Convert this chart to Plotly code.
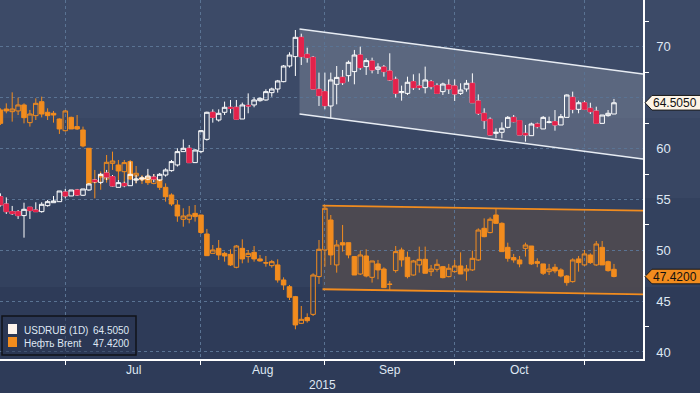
import pandas as pd
import plotly.graph_objects as go

# ---------------- data ----------------
dates = pd.bdate_range("2015-06-16", periods=105)
idx = list(range(len(dates)))

rub_open = [55.27, 54.55, 53.80, 53.80, 53.41, 54.23, 53.96, 53.80, 54.39, 54.68,
            54.78, 55.73, 55.34, 55.93, 55.41, 55.93, 56.91, 56.68, 57.60, 57.24,
            56.19, 56.58, 56.35, 56.90, 57.00, 57.00, 57.20, 56.91, 57.40, 57.83,
            58.39, 59.70, 60.03, 58.62, 59.70, 60.91, 63.57, 62.81, 63.57, 64.06,
            64.06, 62.91, 64.25, 64.29, 64.71, 64.78, 65.50, 65.86, 66.58, 68.12,
            69.04, 70.94, 69.27, 68.97, 65.83, 65.60, 64.19, 66.32, 67.01, 67.17,
            67.57, 69.20, 68.06, 68.61, 67.80, 68.02, 67.63, 66.81, 65.50, 65.43,
            66.58, 66.16, 65.99, 66.58, 66.19, 65.60, 66.25, 66.16, 65.43, 65.86,
            66.42, 64.68, 63.47, 62.88, 61.50, 61.60, 62.09, 63.07, 62.75, 61.50,
            61.27, 62.42, 61.93, 62.58, 62.65, 62.32, 63.07, 65.04, 63.86, 64.51,
            63.96, 63.69, 62.48, 63.24, 63.40]
rub_high = [55.60, 55.20, 54.36, 53.96, 54.68, 54.23, 54.72, 54.72, 54.95, 55.34,
            55.83, 56.03, 55.93, 56.03, 56.03, 56.60, 57.00, 57.60, 57.90, 57.40,
            56.91, 56.75, 58.72, 57.40, 57.30, 58.00, 57.50, 57.60, 58.06, 58.88,
            60.03, 60.90, 60.35, 59.93, 61.83, 63.63, 63.86, 63.86, 64.62, 64.78,
            64.78, 64.52, 65.43, 65.04, 65.04, 65.83, 65.99, 66.75, 68.22, 69.47,
            71.66, 71.30, 69.92, 69.10, 67.47, 67.47, 67.47, 68.12, 67.73, 68.65,
            69.70, 70.02, 68.88, 68.94, 68.39, 68.22, 69.37, 67.07, 66.19, 67.07,
            67.30, 67.40, 68.06, 66.75, 66.42, 66.48, 66.81, 66.81, 66.42, 66.75,
            67.40, 65.33, 63.96, 63.07, 61.99, 62.58, 63.20, 63.30, 62.81, 62.32,
            62.55, 62.55, 63.20, 63.14, 63.79, 63.40, 65.33, 65.60, 64.71, 64.71,
            64.51, 64.12, 63.30, 63.79, 64.88]
rub_low = [54.30, 53.57, 53.47, 53.08, 51.24, 53.08, 53.80, 53.70, 54.29, 54.68,
           54.78, 55.11, 55.34, 55.34, 55.34, 55.85, 56.60, 56.50, 56.90, 56.26,
           56.19, 56.20, 56.35, 56.60, 56.80, 56.90, 56.70, 56.80, 57.24, 57.73,
           58.23, 59.70, 58.62, 58.62, 59.54, 60.78, 62.55, 62.65, 63.30, 63.47,
           62.81, 62.91, 63.47, 64.06, 64.61, 64.71, 65.10, 65.50, 66.52, 67.96,
           67.14, 68.22, 68.45, 65.86, 64.19, 63.86, 62.97, 64.35, 66.25, 66.58,
           66.32, 67.73, 67.24, 67.40, 67.34, 67.07, 66.65, 65.01, 64.71, 65.27,
           65.76, 65.76, 65.43, 65.83, 65.37, 65.27, 65.37, 64.68, 65.27, 65.60,
           64.51, 63.30, 61.93, 61.27, 61.01, 61.01, 61.99, 62.58, 61.34, 60.68,
           61.27, 61.99, 61.93, 62.48, 61.76, 62.32, 63.07, 63.47, 63.47, 63.79,
           63.40, 62.48, 62.48, 63.14, 63.40]
rub_close = [54.46, 53.80, 53.60, 53.41, 54.03, 53.90, 53.80, 54.52, 54.78, 54.85,
             55.83, 55.34, 55.93, 55.44, 56.03, 56.52, 56.75, 57.47, 57.20, 56.32,
             56.65, 56.35, 57.47, 57.00, 57.10, 57.30, 57.00, 57.47, 57.90, 58.72,
             59.70, 60.03, 58.62, 59.86, 61.76, 63.57, 63.07, 63.47, 64.06, 63.96,
             62.88, 64.29, 64.20, 64.78, 64.94, 65.60, 65.86, 66.65, 68.12, 69.20,
             70.94, 69.04, 68.94, 65.86, 65.21, 64.22, 66.75, 67.00, 66.48, 68.48,
             69.20, 67.96, 68.65, 67.73, 68.02, 67.57, 66.75, 65.43, 65.60, 66.52,
             65.99, 66.00, 66.75, 66.09, 65.43, 66.35, 65.86, 65.37, 65.76, 66.42,
             64.51, 63.47, 62.75, 61.34, 61.60, 62.00, 63.07, 62.65, 61.34, 61.34,
             62.42, 62.16, 63.07, 62.62, 62.32, 63.14, 65.27, 63.86, 64.51, 63.86,
             63.63, 62.48, 63.30, 63.47, 64.505]

brent_open = [63.80, 63.89, 63.63, 63.70, 64.29, 62.55, 63.24, 64.61, 63.57, 63.47,
              62.91, 61.76, 63.07, 62.16, 61.83, 60.03, 56.90, 57.45, 57.01, 58.55,
              58.39, 57.73, 58.72, 57.31, 57.14, 57.24, 56.58, 56.91, 56.19, 55.44,
              54.45, 53.05, 53.05, 53.63, 53.47, 51.60, 49.70, 50.19, 49.70, 49.60,
              48.33, 50.19, 49.38, 49.80, 49.15, 48.78, 48.49, 48.56, 47.08, 46.42,
              45.44, 42.82, 43.38, 43.70, 47.41, 50.03, 52.98, 48.56, 50.75, 50.75,
              49.38, 47.67, 49.44, 47.34, 48.66, 48.16, 46.67, 48.00, 50.03, 49.31,
              47.57, 48.56, 49.11, 47.90, 48.13, 48.39, 47.41, 47.90, 48.46, 47.97,
              48.07, 49.05, 52.16, 51.74, 53.47, 52.65, 50.29, 49.28, 49.05, 50.19,
              50.42, 48.88, 48.66, 47.90, 48.33, 48.07, 47.47, 46.92, 49.15, 48.56,
              49.54, 48.56, 50.29, 48.88, 48.13]
brent_high = [63.96, 64.45, 65.53, 65.01, 64.45, 63.80, 64.94, 65.11, 63.96, 63.70,
              62.97, 63.80, 63.14, 63.30, 62.16, 60.03, 57.90, 57.75, 59.37, 59.70,
              58.88, 58.88, 58.88, 58.29, 57.40, 57.50, 57.50, 57.00, 56.58, 55.60,
              54.95, 54.13, 54.36, 54.45, 53.47, 52.10, 50.52, 51.01, 49.86, 50.10,
              50.52, 51.08, 50.03, 50.42, 49.54, 49.44, 49.05, 49.11, 47.34, 46.59,
              45.51, 44.52, 43.80, 47.74, 51.01, 54.45, 53.47, 51.01, 52.49, 50.75,
              49.44, 49.96, 50.10, 48.95, 49.05, 48.33, 46.98, 50.42, 50.26, 49.87,
              49.05, 50.36, 50.36, 48.56, 49.11, 48.46, 48.66, 49.05, 49.80, 48.56,
              49.96, 52.16, 53.14, 53.24, 54.13, 52.75, 50.75, 49.64, 49.44, 50.75,
              50.42, 49.21, 48.66, 48.66, 48.66, 48.23, 47.57, 49.21, 49.44, 50.03,
              49.70, 50.91, 50.91, 48.98, 48.66]
brent_low = [62.32, 63.47, 62.65, 63.30, 62.48, 62.16, 62.81, 63.07, 62.81, 62.55,
             61.44, 61.67, 61.93, 61.83, 60.13, 56.50, 55.11, 55.95, 56.65, 57.90,
             56.91, 56.42, 56.91, 56.58, 56.52, 56.42, 56.49, 55.93, 54.78, 54.36,
             52.80, 52.32, 52.65, 52.82, 51.60, 49.47, 49.70, 49.05, 48.88, 48.46,
             48.23, 48.72, 48.78, 48.88, 48.88, 48.39, 48.29, 46.82, 46.10, 45.11,
             42.23, 42.76, 42.89, 43.54, 46.69, 48.39, 48.56, 47.80, 49.87, 49.21,
             47.57, 47.57, 47.34, 46.82, 47.15, 46.33, 46.00, 47.80, 48.39, 47.24,
             47.51, 47.80, 47.74, 47.47, 47.90, 47.24, 47.34, 47.80, 47.67, 47.02,
             47.97, 48.95, 51.28, 51.67, 52.59, 49.87, 48.88, 48.78, 48.33, 49.38,
             48.56, 48.33, 47.57, 47.57, 47.74, 47.34, 46.52, 46.82, 47.90, 48.46,
             48.66, 48.46, 48.56, 47.90, 47.34]
brent_close = [62.48, 63.70, 63.89, 64.29, 63.04, 63.40, 64.45, 63.40, 63.24, 63.30,
               61.93, 63.70, 61.93, 61.93, 60.26, 56.55, 56.70, 57.20, 58.65, 58.78,
               57.80, 58.62, 57.01, 57.57, 56.91, 56.65, 57.14, 56.19, 55.27, 54.55,
               53.37, 53.37, 53.47, 53.31, 51.75, 49.47, 50.03, 49.54, 49.44, 48.56,
               50.42, 49.15, 49.70, 49.15, 48.95, 48.75, 48.88, 47.08, 46.59, 45.38,
               42.66, 43.21, 43.08, 47.57, 50.10, 54.13, 49.54, 50.52, 50.52, 49.54,
               47.57, 49.54, 47.47, 48.95, 48.07, 46.33, 46.65, 49.87, 49.05, 47.41,
               48.95, 49.11, 47.74, 48.16, 48.62, 47.31, 48.23, 48.46, 47.67, 48.16,
               49.21, 51.99, 51.34, 53.05, 52.65, 49.87, 49.21, 49.05, 48.66, 50.52,
               48.66, 48.72, 47.74, 48.16, 47.97, 47.47, 46.82, 49.05, 48.79, 49.64,
               48.79, 50.62, 48.56, 48.00, 47.42]

# trend channels (index position, value)
rub_channel_x = [50.7, 108.92]
rub_channel_upper = [71.76, 67.34]
rub_channel_lower = [63.40, 58.98]
brent_channel_x = [54.6, 108.92]
brent_channel_upper = [54.39, 53.89]
brent_channel_lower = [46.17, 45.67]

y_tick_vals = [40, 45, 50, 55, 60, 65, 70]
y_tick_text = ["40", "45", "50", "55", "60", "", "70"]
y_minor_vals = [42.5, 47.5, 52.5, 57.5, 62.5, 67.5, 72.5]
month_names = ["Jul", "Aug", "Sep", "Oct"]
year_label = "2015"
series_names = ["USDRUB (1D)", "Нефть Brent"]
last_text = ["64.5050", "47.4200"]

# ---------------- styling ----------------
WHITE = "#ffffff"
RED = "#e3224b"
ORANGE = "#f28c1e"
GRID = "#5a7393"
TXT = "#dfe7f3"
FONT = "Liberation Sans, Arial, sans-serif"

PLOT_W, PLOT_H = 643, 359
XR = [-0.068, 108.92]
YR = [39.31, 74.61]


def py(px):
    return 1 - px / PLOT_H


def channel_path(xs, up, lo):
    return (f"M {xs[0]},{up[0]} L {xs[1]},{up[1]} "
            f"L {xs[1]},{lo[1]} L {xs[0]},{lo[0]} Z")


fig = go.Figure()

# channel border lines
for yy in (rub_channel_upper, rub_channel_lower):
    fig.add_trace(go.Scatter(x=rub_channel_x, y=yy, mode="lines",
                             line=dict(color="rgba(240,244,250,0.95)", width=1.6),
                             hoverinfo="skip", showlegend=False))
for yy in (brent_channel_upper, brent_channel_lower):
    fig.add_trace(go.Scatter(x=brent_channel_x, y=yy, mode="lines",
                             line=dict(color=ORANGE, width=1.8),
                             hoverinfo="skip", showlegend=False))

# Brent candles
fig.add_trace(go.Candlestick(
    x=idx, open=brent_open, high=brent_high, low=brent_low, close=brent_close,
    increasing=dict(line=dict(color=ORANGE, width=1), fillcolor="rgba(0,0,0,0)"),
    decreasing=dict(line=dict(color=ORANGE, width=1), fillcolor=ORANGE),
    hoverinfo="skip", showlegend=False))

# USDRUB candles (white wicks)
fig.add_trace(go.Candlestick(
    x=idx, open=rub_open, high=rub_high, low=rub_low, close=rub_close,
    increasing=dict(line=dict(color=WHITE, width=1), fillcolor="rgba(0,0,0,0)"),
    decreasing=dict(line=dict(color=WHITE, width=1), fillcolor=RED),
    hoverinfo="skip", showlegend=False))
# red bodies on top for falling days
dn = [i for i in idx if rub_close[i] < rub_open[i]]
fig.add_trace(go.Candlestick(
    x=dn, open=[rub_open[i] for i in dn], close=[rub_close[i] for i in dn],
    high=[rub_open[i] for i in dn], low=[rub_close[i] for i in dn],
    increasing=dict(line=dict(color=RED, width=1), fillcolor=RED),
    decreasing=dict(line=dict(color=RED, width=1), fillcolor=RED),
    hoverinfo="skip", showlegend=False))

# tick arrows on the right axis
arrow_vals = [v for v, t in zip(y_tick_vals, y_tick_text) if t]
fig.add_trace(go.Scatter(
    x=[XR[1] + 0.75] * len(arrow_vals), y=arrow_vals, mode="markers",
    marker=dict(symbol="triangle-right", size=7, color=WHITE),
    cliponaxis=False, hoverinfo="skip", showlegend=False))

# ---------------- background bands + channel fills ----------------
shapes = []
bands = [(0, 118, "#3c4a67"), (118, 198, "#384663"), (198, 287, "#33415e"), (287, 400, "#2e3b58")]
for a, b, c in bands:
    shapes.append(dict(type="rect", xref="paper", yref="paper", x0=-0.01, x1=1.1,
                       y0=py(b), y1=py(a), fillcolor=c, line=dict(width=0), layer="below"))
shapes.append(dict(type="path", xref="x", yref="y",
                   path=channel_path(rub_channel_x, rub_channel_upper, rub_channel_lower),
                   fillcolor="rgba(255,255,255,0.16)", line=dict(width=0), layer="below"))
shapes.append(dict(type="path", xref="x", yref="y",
                   path=channel_path(brent_channel_x, brent_channel_upper, brent_channel_lower),
                   fillcolor="rgba(78,74,80,0.92)", line=dict(width=0), layer="below"))


# value tags
def tag(val, fill, border):
    h = 0.72
    xt, xs, xe = 645 / PLOT_W, 652 / PLOT_W, 705 / PLOT_W
    path = (f"M {xt},{val} L {xs},{val + h} L {xe},{val + h} "
            f"L {xe},{val - h} L {xs},{val - h} Z")
    return dict(type="path", xref="paper", yref="y", path=path,
                fillcolor=fill, line=dict(color=border, width=1), layer="above")


shapes.append(tag(rub_close[-1], "#fdf4e6", "#1a1a1a"))
shapes.append(tag(brent_close[-1], ORANGE, "#1a1a1a"))

# legend box + swatches
shapes.append(dict(type="rect", xref="paper", yref="paper",
                   x0=2 / PLOT_W, x1=136 / PLOT_W, y0=py(355), y1=py(316),
                   line=dict(color="#111318", width=1.5), fillcolor="rgba(40,52,80,0.5)"))
shapes.append(dict(type="rect", xref="paper", yref="paper",
                   x0=8 / PLOT_W, x1=17 / PLOT_W, y0=py(334), y1=py(324),
                   line=dict(width=0), fillcolor="#fdf4ec"))
shapes.append(dict(type="rect", xref="paper", yref="paper",
                   x0=8 / PLOT_W, x1=17 / PLOT_W, y0=py(347), y1=py(337),
                   line=dict(width=0), fillcolor=ORANGE))

annotations = []
# legend text
for name, val, ypx in zip(series_names, last_text, [330, 343]):
    annotations.append(dict(xref="paper", yref="paper", x=22 / PLOT_W, y=py(ypx),
                            text=name, showarrow=False, xanchor="left", yanchor="middle",
                            font=dict(family=FONT, size=10, color=TXT)))
    annotations.append(dict(xref="paper", yref="paper", x=132 / PLOT_W, y=py(ypx),
                            text=val, showarrow=False, xanchor="right", yanchor="middle",
                            font=dict(family=FONT, size=10, color=TXT)))
# tag texts
for val, txt in zip([rub_close[-1], brent_close[-1]], last_text):
    annotations.append(dict(xref="paper", yref="y", x=651 / PLOT_W, y=val, text=txt,
                            showarrow=False, xanchor="left", yanchor="middle",
                            font=dict(family=FONT, size=12, color="#111111")))

# month labels
month_starts = [i for i in idx if i > 0 and dates[i].month != dates[i - 1].month]
bounds = month_starts
for k, m in enumerate(month_names):
    mid = (bounds[k] + bounds[k + 1] - 1) / 2 + 0.5
    annotations.append(dict(xref="x", yref="paper", x=mid, y=py(370), text=m,
                            showarrow=False, xanchor="center", yanchor="middle",
                            font=dict(family=FONT, size=12, color=TXT)))
annotations.append(dict(xref="paper", yref="paper", x=322 / PLOT_W, y=py(385), text=year_label,
                        showarrow=False, xanchor="center", yanchor="middle",
                        font=dict(family=FONT, size=12, color=TXT)))

fig.update_layout(
    width=700, height=393,
    margin=dict(l=0, r=57, t=0, b=34, autoexpand=False),
    paper_bgcolor="#2e3b58", plot_bgcolor="rgba(0,0,0,0)",
    showlegend=False, boxgap=0.15, boxgroupgap=0.1,
    shapes=shapes, annotations=annotations,
    font=dict(family=FONT, color=TXT),
    xaxis=dict(range=XR, showgrid=True, gridcolor=GRID, griddash="3px,3px", gridwidth=1,
               tickmode="array", tickvals=month_starts, ticktext=[""] * len(month_starts),
               ticks="outside", ticklen=4, tickcolor=WHITE, showticklabels=False,
               showline=True, linecolor=WHITE, linewidth=1.5, zeroline=False,
               automargin=False, rangeslider=dict(visible=False), fixedrange=True),
    yaxis=dict(range=YR, side="right", showgrid=True, gridcolor=GRID, griddash="3px,3px",
               tickmode="array", tickvals=y_tick_vals, ticktext=y_tick_text,
               ticks="outside", ticklen=9, tickcolor="rgba(0,0,0,0)",
               tickfont=dict(family=FONT, size=13, color=TXT),
               minor=dict(tickvals=y_minor_vals, ticks="outside", ticklen=4,
                          tickcolor=WHITE, tickwidth=1, showgrid=False),
               showline=True, linecolor=WHITE, linewidth=1.5, zeroline=False,
               automargin=False, fixedrange=True),
)

fig.write_html("out.html", config={"displayModeBar": False},
               post_script="document.body.style.margin='0';document.body.style.overflow='hidden';")
